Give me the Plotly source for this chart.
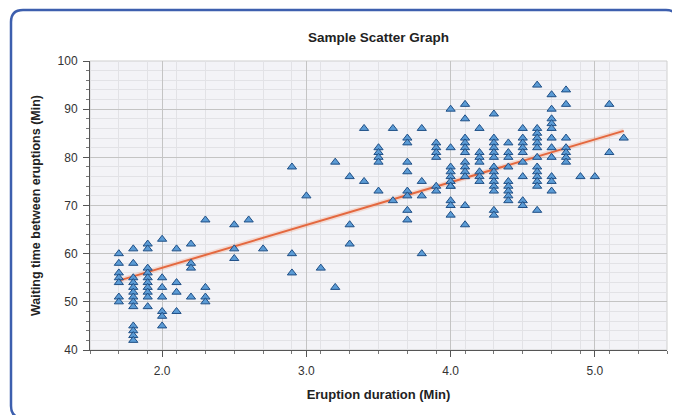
import plotly.graph_objects as go

# ---- data ----
eruption_min = (
    [1.7] * 7 + [1.8] * 13 + [1.9] * 10 + [2.0] * 7 + [2.1] * 4 + [2.2] * 4 + [2.3] * 4
    + [2.5] * 3 + [2.6] + [2.7] + [2.9] * 3 + [3.0] + [3.1] + [3.2] * 2 + [3.3] * 3
    + [3.4] * 2 + [3.5] * 5 + [3.6] * 2 + [3.7] * 8 + [3.8] * 4 + [3.9] * 6
    + [4.0] * 11 + [4.1] * 12 + [4.2] * 7 + [4.3] * 14 + [4.4] * 9 + [4.5] * 9
    + [4.6] * 13 + [4.7] * 11 + [4.8] * 7 + [4.9] + [5.0] + [5.1] * 2 + [5.2]
)
waiting_min = [
    60, 58, 56, 55, 54, 51, 50,                                  # 1.7
    61, 58, 55, 54, 53, 52, 51, 50, 49, 45, 44, 43, 42,          # 1.8
    62, 61, 57, 56, 55, 54, 53, 52, 51, 49,                      # 1.9
    63, 55, 53, 51, 48, 47, 45,                                  # 2.0
    61, 54, 52, 48,                                              # 2.1
    62, 58, 57, 51,                                              # 2.2
    67, 53, 51, 50,                                              # 2.3
    66, 61, 59,                                                  # 2.5
    67,                                                          # 2.6
    61,                                                          # 2.7
    78, 60, 56,                                                  # 2.9
    72,                                                          # 3.0
    57,                                                          # 3.1
    79, 53,                                                      # 3.2
    76, 66, 62,                                                  # 3.3
    86, 75,                                                      # 3.4
    82, 81, 80, 79, 73,                                          # 3.5
    86, 71,                                                      # 3.6
    84, 83, 79, 77, 73, 72, 69, 67,                              # 3.7
    86, 75, 72, 60,                                              # 3.8
    83, 82, 81, 80, 74, 73,                                      # 3.9
    90, 82, 78, 77, 76, 75, 74, 74, 71, 70, 68,                  # 4.0
    91, 88, 84, 83, 82, 81, 79, 78, 77, 76, 70, 66,              # 4.1
    86, 81, 80, 79, 77, 76, 75,                                  # 4.2
    89, 84, 83, 82, 81, 80, 78, 77, 76, 75, 74, 73, 69, 68,      # 4.3
    83, 81, 80, 78, 75, 74, 73, 72, 71,                          # 4.4
    86, 84, 83, 82, 81, 79, 76, 71, 70,                          # 4.5
    95, 86, 85, 84, 83, 82, 80, 78, 77, 76, 75, 74, 69,          # 4.6
    93, 90, 88, 87, 86, 84, 82, 80, 76, 75, 73,                  # 4.7
    94, 91, 84, 82, 81, 80, 79,                                  # 4.8
    76,                                                          # 4.9
    76,                                                          # 5.0
    91, 81,                                                      # 5.1
    84,                                                          # 5.2
]
trend_x = [1.7, 5.2]
trend_y = [54.4, 85.5]

x_ticks = [2.0, 3.0, 4.0, 5.0]
x_tick_labels = ["2.0", "3.0", "4.0", "5.0"]
y_ticks = [40, 50, 60, 70, 80, 90, 100]

title_text = "Sample Scatter Graph"
x_title = "Eruption duration (Min)"
y_title = "Waiting time between eruptions (Min)"

# ---- layout geometry (page has an 8px body margin) ----
OFF = 8
W, H = 680 - OFF, 415 - OFF
ML, MR, MT, MB = 82, 13, 53, 65
PW, PH = W - ML - MR, H - MT - MB


def px(xpage):
    return (xpage - OFF - ML) / PW


def py(ypage):
    return (OFF + H - MB - ypage) / PH


FONT = "Liberation Sans"

fig = go.Figure()

# glow under trend line
fig.add_trace(go.Scatter(
    x=trend_x, y=trend_y, mode="lines",
    line=dict(color="rgba(240,140,100,0.25)", width=5),
    hoverinfo="skip", showlegend=False,
))
fig.add_trace(go.Scatter(
    x=trend_x, y=trend_y, mode="lines",
    line=dict(color="#e4683f", width=2),
    showlegend=False, name="Trend",
))
fig.add_trace(go.Scatter(
    x=eruption_min, y=waiting_min, mode="markers",
    marker=dict(symbol="triangle-up", size=8, color="#5b9bd5",
                line=dict(color="#1f4f86", width=1)),
    showlegend=False, name="Eruptions",
))

# rounded frame around the whole chart (page pixel coordinates)
L, R, T, B, r = 11, 678, 10, 418, 12
path = (
    f"M {px(L + r)},{py(T)} L {px(R - r)},{py(T)} Q {px(R)},{py(T)} {px(R)},{py(T + r)} "
    f"L {px(R)},{py(B - r)} Q {px(R)},{py(B)} {px(R - r)},{py(B)} "
    f"L {px(L + r)},{py(B)} Q {px(L)},{py(B)} {px(L)},{py(B - r)} "
    f"L {px(L)},{py(T + r)} Q {px(L)},{py(T)} {px(L + r)},{py(T)} Z"
)
shapes = [
    dict(type="path", path=path, xref="paper", yref="paper",
         line=dict(color="#3d5fae", width=2.5), fillcolor="rgba(0,0,0,0)", layer="below"),
    dict(type="rect", xref="paper", yref="paper", x0=0, x1=1, y0=0, y1=1,
         line=dict(color="#cfcfcf", width=1), fillcolor="rgba(0,0,0,0)", layer="below"),
]

fig.update_layout(
    width=W, height=H,
    margin=dict(l=ML, r=MR, t=MT, b=MB, autoexpand=False),
    paper_bgcolor="white",
    plot_bgcolor="#f3f3f7",
    font=dict(family=FONT, size=12, color="#333333"),
    title=dict(text=f"<b>{title_text}</b>", x=0.5, xref="paper", y=1 - (37 - OFF) / H,
               yref="container", xanchor="center", yanchor="middle",
               font=dict(family=FONT, size=13.5, color="#222222")),
    shapes=shapes,
    xaxis=dict(
        range=[1.5, 5.5], tickvals=x_ticks, ticktext=x_tick_labels,
        showgrid=True, gridcolor="#c4c4c4", gridwidth=1,
        showline=True, linecolor="#555555", linewidth=1,
        ticks="outside", ticklen=6, tickcolor="#555555",
        minor=dict(dtick=0.2, tick0=1.5, showgrid=True, gridcolor="#e2e2e6",
                   ticks="outside", ticklen=3, tickcolor="#777777"),
        zeroline=False, ticklabelstandoff=4,
        tickfont=dict(family=FONT, size=12, color="#333333"),
        title=dict(text=f"<b>{x_title}</b>", standoff=12,
                   font=dict(family=FONT, size=13, color="#222222")),
    ),
    yaxis=dict(
        range=[40, 100], tickvals=y_ticks,
        showgrid=True, gridcolor="#c4c4c4", gridwidth=1,
        showline=True, linecolor="#555555", linewidth=1,
        ticks="outside", ticklen=6, tickcolor="#555555",
        minor=dict(dtick=2, showgrid=True, gridcolor="#e2e2e6",
                   ticks="outside", ticklen=3, tickcolor="#777777"),
        zeroline=False, ticklabelstandoff=3,
        tickfont=dict(family=FONT, size=12, color="#333333"),
        title=dict(text=f"<b>{y_title}</b>", standoff=14,
                   font=dict(family=FONT, size=12.5, color="#222222")),
    ),
)

fig.write_html("out.html")
